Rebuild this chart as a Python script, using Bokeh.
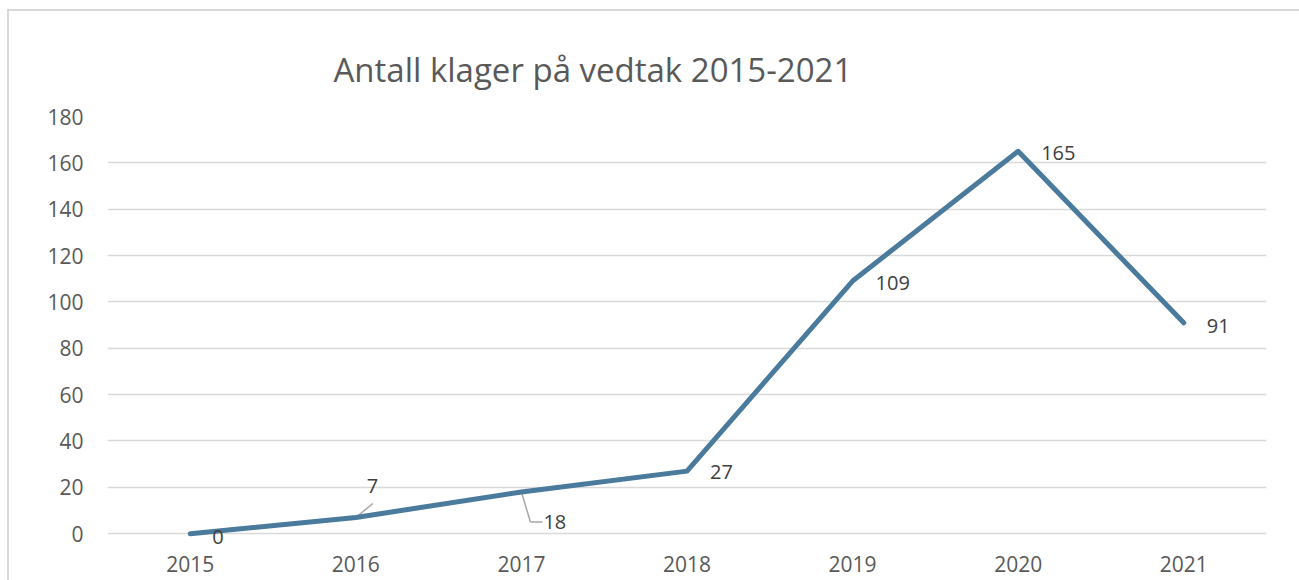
from bokeh.plotting import figure
from bokeh.models import (ColumnDataSource, FactorRange, Title, Range1d, SingleIntervalTicker,
                          LabelSet, Dodge)
from bokeh.embed import file_html
from bokeh.resources import INLINE
from bokeh.core.properties import value

years = ["2015", "2016", "2017", "2018", "2019", "2020", "2021"]
klager = [0, 7, 18, 27, 109, 165, 91]
labels = [str(v) for v in klager]
title_text = "Antall klager på vedtak 2015-2021"

# label placement (screen px offsets from each point; positive dy = up)
lab_dx = [22, 11, 22, 23, 23, 23, 23]
lab_dy = [-3, 31, -30, -1, -2, -2, -3]

src = ColumnDataSource(dict(x=years, y=klager, t=labels, dx=lab_dx, dy=lab_dy))

FONT = "Open Sans"
W, H = 1299, 580
ML, MR, MT, MB = 107, 33, 116, 19
Y0, Y1 = -12, 180

# light chart-area border (left and top edges), drawn behind the transparent canvas
border_css = ("linear-gradient(#d9d9d9, #d9d9d9) 7px 9px / 2px 100% no-repeat, "
              "linear-gradient(#d9d9d9, #d9d9d9) 7px 9px / 100% 2px no-repeat, white")

p = figure(width=W, height=H, x_range=FactorRange(*years), y_range=Range1d(Y0, Y1),
           output_backend="svg", toolbar_location=None,
           min_border_left=ML, min_border_right=MR, min_border_bottom=MB, min_border_top=MT,
           styles={"background": border_css})

t = Title(text=title_text, text_font=FONT, text_font_size="33px", text_color="#595959",
          text_font_style="normal", align="left", offset=226, standoff=50)
p.add_layout(t, "above")

p.outline_line_color = None
p.background_fill_color = "white"
p.border_fill_color = None

p.xgrid.grid_line_color = None
p.ygrid.grid_line_color = "#d9d9d9"
p.ygrid.grid_line_width = 1.5
p.yaxis.ticker = SingleIntervalTicker(interval=20)

for ax in (p.xaxis, p.yaxis):
    ax.axis_line_color = None
    ax.major_tick_line_color = None
    ax.minor_tick_line_color = None
    ax.major_label_text_font = FONT
    ax.major_label_text_font_size = "21px"
    ax.major_label_text_color = "#595959"
p.xaxis.major_label_standoff = -12
p.yaxis.major_label_standoff = 18

# leader lines for the 2016 and 2017 labels, relative to the data points
frame_w = W - ML - MR
frame_h = H - MT - MB
px_per_cat = frame_w / len(years)
px_per_unit = frame_h / (Y1 - Y0)


def dodge(px):
    return Dodge(value=px / px_per_cat, range=p.x_range)


LEAD = dict(line_color="#a6a6a6", line_width=1.5)
i16, i17 = 1, 2
p.segment(x0={"field": "x", "transform": dodge(0)}, y0="y0",
          x1={"field": "x", "transform": dodge(17)}, y1="y1",
          source=ColumnDataSource(dict(x=[years[i16]], y0=[klager[i16]],
                                       y1=[klager[i16] + 14 / px_per_unit])), **LEAD)
y_elbow = klager[i17] - 30 / px_per_unit
p.segment(x0={"field": "x", "transform": dodge(0)}, y0="y0",
          x1={"field": "x", "transform": dodge(9)}, y1="y1",
          source=ColumnDataSource(dict(x=[years[i17]], y0=[klager[i17]], y1=[y_elbow])), **LEAD)
p.segment(x0={"field": "x", "transform": dodge(9)}, y0="y0",
          x1={"field": "x", "transform": dodge(21)}, y1="y1",
          source=ColumnDataSource(dict(x=[years[i17]], y0=[y_elbow], y1=[y_elbow])), **LEAD)

p.line("x", "y", source=src, line_color="#4a7a9c", line_width=5, line_cap="round", line_join="round")

labs = LabelSet(x="x", y="y", text="t", source=src, x_offset="dx", y_offset="dy",
                text_font=value(FONT), text_font_size=value("20px"), text_color="#404040",
                text_align="left", text_baseline="middle")
p.add_layout(labs)

out = file_html(p, INLINE)
open("out.html", "w").write(out)
